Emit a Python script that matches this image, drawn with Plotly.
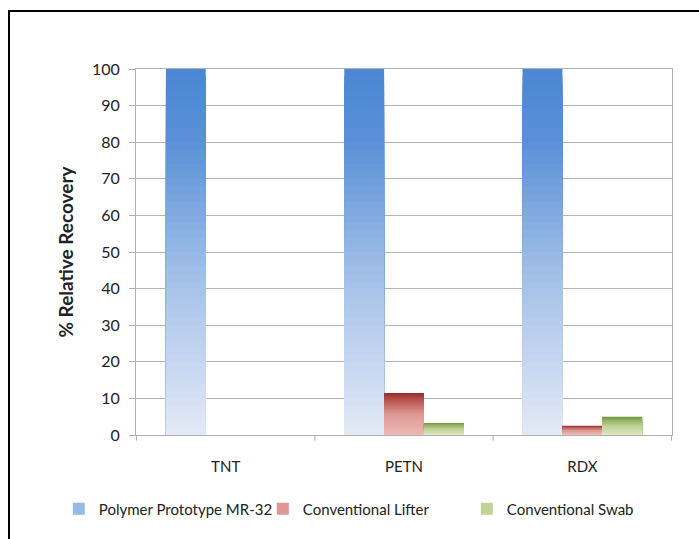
import plotly.graph_objects as go

# Data
categories = ["TNT", "PETN", "RDX"]
series_names = ["Polymer Prototype MR-32", "Conventional Lifter", "Conventional Swab"]
mr32 = [100, 100, 100]
lifter = [0, 11.5, 2.5]
swab = [0, 3.3, 5.0]
y_ticks = [0, 10, 20, 30, 40, 50, 60, 70, 80, 90, 100]

# Gradient stops per series: (fraction of bar height, rgb)
gradients = [
    [(0.0, (227, 234, 246)), (0.45, (160, 190, 232)), (0.8, (90, 145, 215)), (1.0, (74, 134, 212))],
    [(0.0, (236, 186, 183)), (0.5, (222, 150, 146)), (0.85, (178, 80, 76)), (1.0, (150, 44, 40))],
    [(0.0, (218, 230, 192)), (0.5, (190, 210, 150)), (0.85, (140, 170, 90)), (1.0, (118, 146, 59))],
]


def color_at(stops, f):
    for (f0, c0), (f1, c1) in zip(stops, stops[1:]):
        if f0 <= f <= f1:
            t = (f - f0) / (f1 - f0) if f1 > f0 else 0
            c = [round(a + (b - a) * t) for a, b in zip(c0, c1)]
            return f"rgb({c[0]},{c[1]},{c[2]})"
    c = stops[-1][1]
    return f"rgb({c[0]},{c[1]},{c[2]})"


# Each bar is painted as a stack of overlapping layers, tallest (darkest) first,
# each layer starting at zero so there are no seams between bands.
N = 50
fig = go.Figure()
for s, (name, vals) in enumerate(zip(series_names, [mr32, lifter, swab])):
    stops = gradients[s]
    for k in range(N):
        frac = (N - k) / N
        f = (N - k - 0.5) / N
        fig.add_trace(go.Bar(
            x=categories,
            y=[v * frac for v in vals],
            offsetgroup=str(s),
            name=name,
            legendgroup=name,
            showlegend=(k == N // 2),
            marker=dict(color=color_at(stops, f), line=dict(width=0)),
            hoverinfo="skip",
        ))

fig.update_layout(
    width=699, height=539,
    margin=dict(l=136, r=27, t=69, b=104),
    paper_bgcolor="white", plot_bgcolor="white",
    barmode="group", bargap=0.33, bargroupgap=0,
    font=dict(family="Lato, 'Open Sans', sans-serif", size=15, color="#222"),
    showlegend=True,
    legend=dict(orientation="h", x=-0.144, xanchor="left", y=-0.202, yanchor="middle",
                font=dict(size=15, color="#222"), itemwidth=30, traceorder="normal",
                tracegroupgap=0, entrywidth=159, entrywidthmode="pixels"),
    xaxis=dict(showline=True, linecolor="#b0b0b0", linewidth=1, mirror=True,
               ticks="", showgrid=False, tickfont=dict(size=15), ticklabelstandoff=18),
    yaxis=dict(range=[0, 100], tickvals=y_ticks, showgrid=True, gridcolor="#b4b4b4",
               gridwidth=1, showline=True, linecolor="#b0b0b0", linewidth=1, mirror=True,
               ticks="outside", ticklen=6, tickcolor="#b0b0b0", zeroline=False,
               tickfont=dict(size=16), ticklabelstandoff=6,
               title=dict(text="<b>% Relative Recovery</b>", font=dict(size=19), standoff=13)),
)

# Category separator ticks below the axis
for k in range(len(categories) + 1):
    fig.add_shape(type="line", xref="x", yref="paper", x0=k - 0.5, x1=k - 0.5,
                  y0=0, y1=-0.015, line=dict(color="#b0b0b0", width=1))

# Outer chart frame
fig.add_shape(type="rect", xref="paper", yref="paper",
              x0=(9 - 136) / 536, x1=1.2, y0=-0.5, y1=1 + (69 - 11) / 366,
              line=dict(color="black", width=2), fillcolor="rgba(0,0,0,0)", layer="below")

fig.write_html("out.html")
